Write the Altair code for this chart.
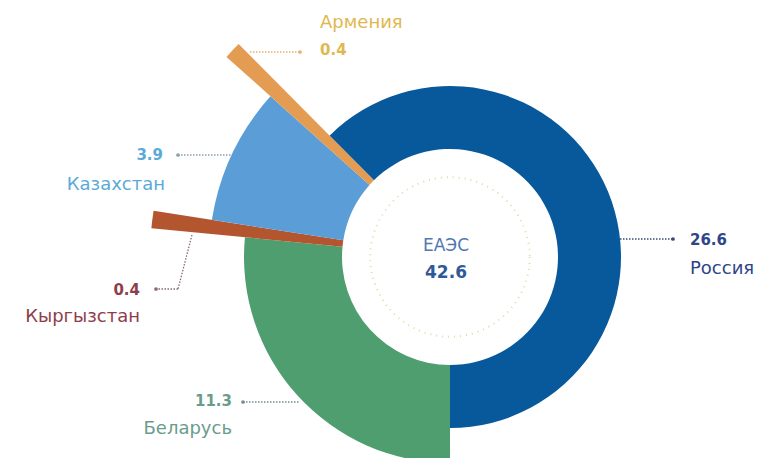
import math
import altair as alt
import pandas as pd

# ---- data ----
countries = ["Россия", "Беларусь", "Кыргызстан", "Казахстан", "Армения"]
values = [26.6, 11.3, 0.4, 3.9, 0.4]
value_labels = ["26.6", "11.3", "0.4", "3.9", "0.4"]
center_name = "ЕАЭС"
center_total = "42.6"

# ---- styles / layout ----
slice_colors = ["#08599c", "#4f9e6f", "#b3552f", "#5b9dd6", "#e49c52"]
text_colors = ["#2e4588", "#6a9c8c", "#8e3e4a", "#5aaad8", "#e0b850"]
line_colors = ["#3a4a70", "#7a8a90", "#8a6a70", "#8aa0b0", "#e8b070"]
outer_radius = [171, 206, 300, 241, 300]
INNER = 108
M = 8  # page margin
CX, CY = 450 - M, 257 - M
W, H = 764 - 2 * M, 458 - M

total = sum(values)
start = math.pi - 2 * math.pi * values[0] / total

# label layout (page coords): value pos, name pos, align
val_pos = [(690, 240), (232, 401), (140, 290), (163, 155), (320, 50)]
name_pos = [(690, 269), (232, 429), (140, 317), (165, 185), (320, 23)]
aligns = ["left", "right", "right", "right", "left"]
# leader line segments (page coords) per country
segments = [
    [(620, 239, 673, 239)],
    [(243, 402, 300, 402)],
    [(192, 235, 178, 289), (178, 289, 156, 289)],
    [(178, 155, 232, 155)],
    [(250, 52, 300, 52)],
]
dots = [(673, 239), (243, 402), (156, 289), (178, 155), (300, 52)]

df = pd.DataFrame({
    "country": countries,
    "value": values,
    "order": list(range(len(countries))),
    "outer": outer_radius,
})

color_scale = alt.Scale(domain=countries, range=slice_colors)
theta_scale = alt.Scale(domain=[0, total], range=[start, start + 2 * math.pi], zero=False, nice=False)

arcs = alt.Chart(df).transform_window(
    cum="sum(value)", sort=[alt.SortField("order", order="ascending")],
    frame=[None, 0],
).transform_calculate(
    t0="datum.cum - datum.value"
).mark_arc(innerRadius=INNER).encode(
    theta=alt.Theta("t0:Q", scale=theta_scale),
    theta2="cum:Q",
    radius=alt.Radius("outer:Q", scale=None),
    color=alt.Color("country:N", scale=color_scale, legend=None),
    x=alt.value(CX),
    y=alt.value(CY),
)

ring_df = pd.DataFrame({"k": [0]})
dotted = alt.Chart(ring_df).mark_point(
    shape="circle", filled=False, size=math.pi * 90 ** 2,
    stroke="#dcdca8", strokeWidth=2, strokeDash=[1, 5], opacity=1,
).encode(x=alt.value(CX), y=alt.value(CY))

# labels
rows = []
for i, c in enumerate(countries):
    rows.append({"text": value_labels[i], "x": val_pos[i][0] - M, "y": val_pos[i][1] - M,
                 "align": aligns[i], "kind": "value", "color": text_colors[i]})
    rows.append({"text": c, "x": name_pos[i][0] - M, "y": name_pos[i][1] - M,
                 "align": aligns[i], "kind": "name", "color": text_colors[i]})
lab = pd.DataFrame(rows)

def text_layer(kind, align, size, weight):
    return alt.Chart(lab).transform_filter(
        (alt.datum.kind == kind) & (alt.datum.align == align)
    ).mark_text(align=align, baseline="middle", font="DejaVu Sans",
                fontSize=size, fontWeight=weight).encode(
        x=alt.X("x:Q", scale=None),
        y=alt.Y("y:Q", scale=None),
        text="text:N",
        color=alt.Color("color:N", scale=None),
    )

texts = [
    text_layer("value", "left", 15, "bold"),
    text_layer("value", "right", 15, "bold"),
    text_layer("name", "left", 18, "normal"),
    text_layer("name", "right", 18, "normal"),
]

seg_rows = []
for i, segs in enumerate(segments):
    for (x1, y1, x2, y2) in segs:
        seg_rows.append({"x": x1 - M, "y": y1 - M, "x2": x2 - M, "y2": y2 - M,
                         "color": line_colors[i]})
seg_df = pd.DataFrame(seg_rows)
leaders = alt.Chart(seg_df).mark_rule(strokeWidth=1.3, strokeDash=[1.5, 1.5]).encode(
    x=alt.X("x:Q", scale=None), y=alt.Y("y:Q", scale=None),
    x2="x2:Q", y2="y2:Q",
    color=alt.Color("color:N", scale=None),
)

dot_df = pd.DataFrame({"x": [d[0] - M for d in dots], "y": [d[1] - M for d in dots],
                       "color": line_colors})
dot_layer = alt.Chart(dot_df).mark_point(filled=True, size=14, opacity=1).encode(
    x=alt.X("x:Q", scale=None), y=alt.Y("y:Q", scale=None),
    color=alt.Color("color:N", scale=None),
)

center_df = pd.DataFrame({"text": [center_name, center_total],
                          "y": [246 - M, 273 - M],
                          "color": ["#4f78b0", "#2f5a9a"],
                          "w": ["normal", "bold"]})
center_name_layer = alt.Chart(center_df).transform_filter(alt.datum.w == "normal").mark_text(
    align="center", baseline="middle", font="DejaVu Sans", fontSize=17).encode(
    x=alt.value(446 - M), y=alt.Y("y:Q", scale=None), text="text:N",
    color=alt.Color("color:N", scale=None))
center_val_layer = alt.Chart(center_df).transform_filter(alt.datum.w == "bold").mark_text(
    align="center", baseline="middle", font="DejaVu Sans", fontSize=17, fontWeight="bold").encode(
    x=alt.value(446 - M), y=alt.Y("y:Q", scale=None), text="text:N",
    color=alt.Color("color:N", scale=None))

chart = alt.layer(
    arcs, dotted, leaders, dot_layer, *texts, center_name_layer, center_val_layer
).properties(
    width=W, height=H, autosize=alt.AutoSizeParams(type="none"), padding=0,
).configure_view(stroke=None)

chart.save("out.html", embed_options={"renderer": "svg", "actions": False})
